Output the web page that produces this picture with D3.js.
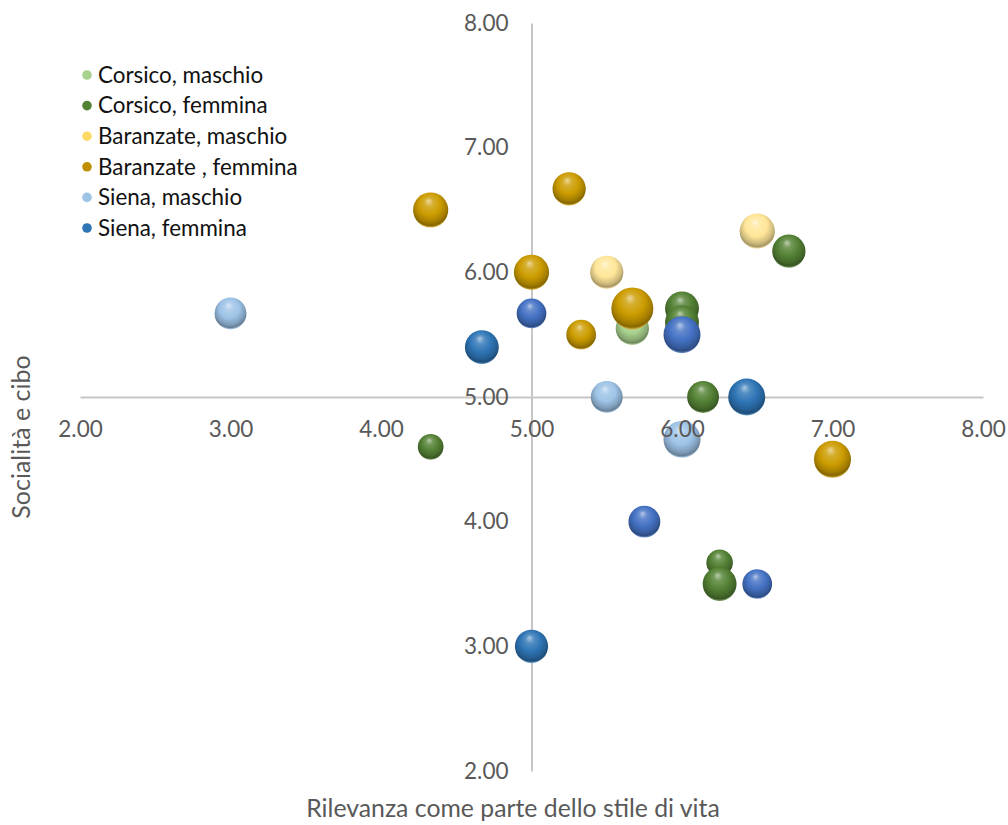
<!DOCTYPE html>
<html>
<head>
<meta charset="utf-8">
<script src="https://cdn.jsdelivr.net/npm/d3@7"></script>
<style>
  body { margin: 0; background: #fff; }
  svg text { font-family: Lato, "Open Sans", sans-serif; }
</style>
</head>
<body>
<div id="svgContainer"></div>
<script>
// series data (x = rilevanza, y = socialità, size = bubble size)
const seriesNames = ["Corsico, maschio", "Corsico, femmina", "Baranzate, maschio",
    "Baranzate , femmina", "Siena, maschio", "Siena, femmina", ""];

const corsicoMX = [5.67];
const corsicoMY = [5.55];
const corsicoMSize = [25];

const corsicoFX = [6.71, 6.0, 6.0, 6.14, 4.33, 6.25, 6.25];
const corsicoFY = [6.17, 5.71, 5.6, 5.0, 4.6, 3.67, 3.5];
const corsicoFSize = [25, 26, 26, 23, 15, 16, 26];

const baranzateMX = [5.5, 6.5];
const baranzateMY = [6.0, 6.33];
const baranzateMSize = [25, 28];

const baranzateFX = [4.33, 5.25, 5.0, 5.33, 5.67, 7.0];
const baranzateFY = [6.5, 6.67, 6.0, 5.5, 5.71, 4.5];
const baranzateFSize = [28, 25, 28, 20, 40, 31];

const sienaMX = [3.0, 5.5, 6.0];
const sienaMY = [5.67, 5.0, 4.66];
const sienaMSize = [23, 23, 31];

const sienaFX = [4.67, 6.43, 5.0];
const sienaFY = [5.4, 5.0, 3.0];
const sienaFSize = [26, 31, 25];

// second Siena femmina group (no legend entry)
const sienaF2X = [5.0, 5.75, 6.0, 6.5];
const sienaF2Y = [5.67, 4.0, 5.5, 3.5];
const sienaF2Size = [20, 23, 31, 20];

const xTicks = [2, 3, 4, 5, 6, 7, 8];
const yTicks = [2, 3, 4, 5, 6, 7, 8];

const legendColors = ["#A9D18E", "#548235", "#FFD966", "#BF9000", "#9DC3E6", "#2E75B6"];
const bubbleColors = ["#A9D18E", "#548235", "#FFE699", "#CC9C00", "#9DC3E6", "#2E75B6", "#4472C4"];

const allX = [corsicoMX, corsicoFX, baranzateMX, baranzateFX, sienaMX, sienaFX, sienaF2X];
const allY = [corsicoMY, corsicoFY, baranzateMY, baranzateFY, sienaMY, sienaFY, sienaF2Y];
const allSize = [corsicoMSize, corsicoFSize, baranzateMSize, baranzateFSize, sienaMSize, sienaFSize, sienaF2Size];

const series = seriesNames.map((name, i) => ({
    name: name,
    index: i,
    points: allX[i].map((x, j) => ({ x: x, y: allY[i][j], size: allSize[i][j] }))
}));

//#region dimensions
let dimensions = { width: 1008, height: 825 };
const plot = { left: 80, right: 983, top: 23, bottom: 771 };
//#endregion

const svg = d3.select("#svgContainer")
    .append("svg")
    .attr("width", dimensions.width)
    .attr("height", dimensions.height);

const xScale = d3.scaleLinear().domain([2, 8]).range([plot.left, plot.right]);
const yScale = d3.scaleLinear().domain([2, 8]).range([plot.bottom, plot.top]);
const rScale = d3.scaleSqrt().domain([0, 40]).range([0, 21]);

//#region gradients
const defs = svg.append("defs");
bubbleColors.forEach((c, i) => {
    const white = d3.interpolateRgb(c, "#ffffff");
    const base = d3.color(c);
    const grad = defs.append("radialGradient")
        .attr("id", "grad" + i)
        .attr("cx", "50%").attr("cy", "42%").attr("r", "60%")
        .attr("fx", "44%").attr("fy", "24%");
    const stops = [
        [0, white(0.6)],
        [0.22, white(0.18)],
        [0.52, c],
        [0.78, base.darker(0.6).formatHex()],
        [0.9, base.darker(1.2).formatHex()],
        [0.97, white(0.25)],
        [1, white(0.4)]
    ];
    grad.selectAll("stop")
        .data(stops)
        .enter()
        .append("stop")
        .attr("offset", d => d[0])
        .attr("stop-color", d => d[1]);
});
//#endregion

//#region axis lines
svg.append("g")
    .attr("transform", `translate(0,${yScale(5)})`)
    .call(d3.axisBottom(xScale).tickValues([]).tickSize(0).tickSizeOuter(0));
svg.append("g")
    .attr("transform", `translate(${xScale(5)},0)`)
    .call(d3.axisLeft(yScale).tickValues([]).tickSize(0).tickSizeOuter(0));
svg.selectAll(".domain")
    .attr("stroke", "#C6C6C6")
    .attr("stroke-width", 2);
//#endregion

//#region bubbles
const gBubbles = svg.append("g");
series.forEach(s => {
    gBubbles.append("g")
        .selectAll("circle")
        .data(s.points)
        .enter()
        .append("circle")
        .attr("cx", d => xScale(d.x))
        .attr("cy", d => yScale(d.y))
        .attr("r", d => rScale(d.size))
        .attr("fill", `url(#grad${s.index})`);
});
//#endregion

//#region tick labels
const fmt = d3.format(".2f");
const gX = svg.append("g")
    .attr("transform", `translate(0,${yScale(5)})`)
    .call(d3.axisBottom(xScale).tickValues(xTicks).tickFormat(fmt).tickSize(0).tickPadding(24));
const gY = svg.append("g")
    .attr("transform", `translate(${xScale(5)},0)`)
    .call(d3.axisLeft(yScale).tickValues(yTicks).tickFormat(fmt).tickSize(0).tickPadding(23));
[gX, gY].forEach(g => {
    g.select(".domain").remove();
    g.selectAll("text")
        .attr("fill", "#595959")
        .style("font-size", "22.5px");
});
//#endregion

//#region axis titles
svg.append("text")
    .attr("x", 513)
    .attr("y", 817)
    .attr("text-anchor", "middle")
    .attr("fill", "#595959")
    .style("font-size", "24.8px")
    .text("Rilevanza come parte dello stile di vita");

svg.append("text")
    .attr("transform", "translate(30,437) rotate(-90)")
    .attr("text-anchor", "middle")
    .attr("fill", "#595959")
    .style("font-size", "25px")
    .text("Socialità e cibo");
//#endregion

//#region legend
const legend = svg.append("g")
    .attr("transform", "translate(87,75)");
const items = legend.selectAll("g")
    .data(series.filter(s => s.name !== ""))
    .enter()
    .append("g")
    .attr("transform", (d, i) => `translate(0,${i * 30.6})`);
items.append("circle")
    .attr("r", 4.8)
    .attr("fill", d => legendColors[d.index]);
items.append("text")
    .attr("x", 11)
    .attr("dy", "0.35em")
    .attr("fill", "#111")
    .style("font-size", "22.4px")
    .text(d => d.name);
//#endregion
</script>
</body>
</html>
